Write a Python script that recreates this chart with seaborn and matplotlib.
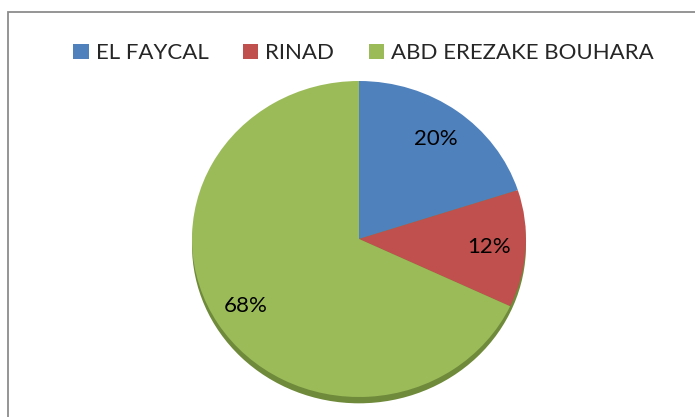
import matplotlib
matplotlib.use("Agg")
import matplotlib.pyplot as plt
import seaborn as sns
from matplotlib.patches import Ellipse, Rectangle
import numpy as np

# data
labels = ["EL FAYCAL", "RINAD", "ABD EREZAKE BOUHARA"]
shares = [20, 12, 68]
colors = ["#4F81BD", "#C0504D", "#9BBB59"]

sns.set_theme(style="white")
plt.rcParams["font.family"] = ["Lato", "DejaVu Sans"]

W, H = 695, 417
fig = plt.figure(figsize=(W / 100, H / 100), dpi=100)
fig.patch.set_facecolor("white")

# pie geometry in pixels (ellipse, slightly squashed like the Excel chart)
cx, cy = 359, 239
rx, ry = 167, 158
lim = 1.1
ax = fig.add_axes([(cx - lim * rx) / W, (H - cy - lim * ry) / H,
                   2 * lim * rx / W, 2 * lim * ry / H])

# darker rim under the pie (3D-ish edge)
ax.add_patch(Ellipse((0, -0.04), 2, 2, facecolor="#6F8A3A", edgecolor="none", zorder=0))

wedges, _, autotexts = ax.pie(
    shares, colors=sns.color_palette(colors), startangle=90, counterclock=False,
    autopct="%d%%", pctdistance=0.78,
    wedgeprops=dict(linewidth=0, zorder=1),
    textprops=dict(fontsize=16, color="black"),
)
ax.set_aspect("auto")
ax.set_xlim(-lim, lim)
ax.set_ylim(-lim, lim)
ax.axis("off")

# Excel "best fit" puts the big label off the middle of its slice
ang = np.deg2rad(212)
autotexts[2].set_position((0.8 * np.cos(ang), 0.8 * np.sin(ang)))

fig.legend(wedges, labels, loc="center", bbox_to_anchor=(0.523, 0.873), ncol=3,
           frameon=False, fontsize=16, handlelength=0.68, handleheight=0.68,
           handletextpad=0.32, columnspacing=1.55)

# chart frame (only the left and top edges fall inside the image)
fig.add_artist(Rectangle((8 / W, -0.1), 1.2, (H - 12) / H + 0.1, transform=fig.transFigure,
                         fill=False, edgecolor="#8c8c8c", linewidth=1.3))

fig.savefig("out.png", dpi=100, facecolor="white")
